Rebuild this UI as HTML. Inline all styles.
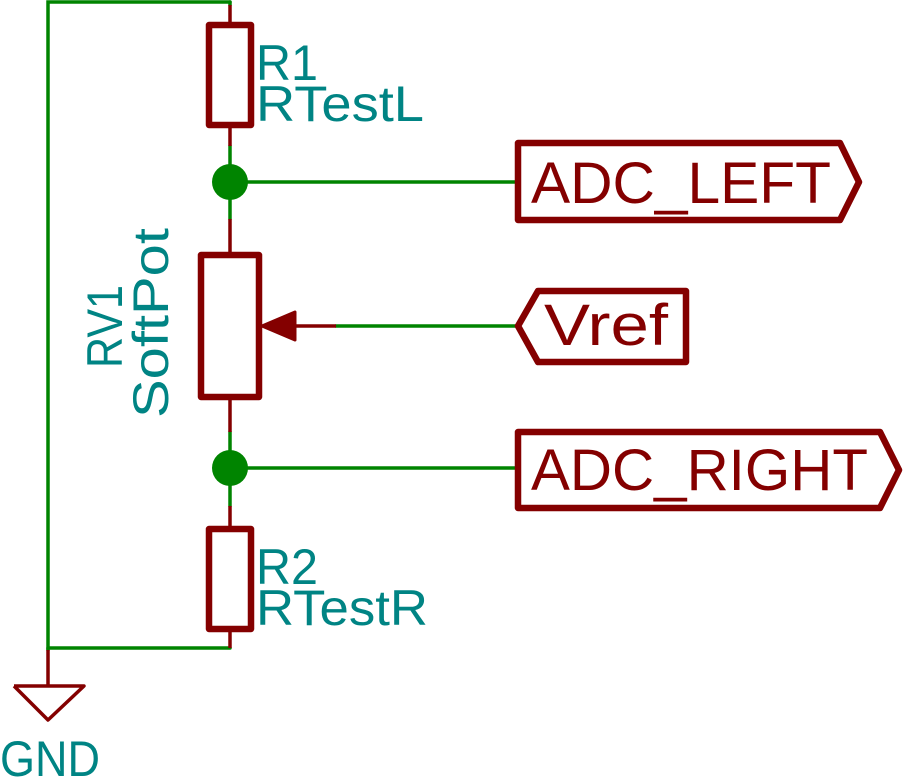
<!DOCTYPE html>
<html><head><style>html,body{margin:0;padding:0;background:#fff;}svg{display:block}</style></head>
<body>
<svg width="906" height="779" viewBox="0 0 906 779" xmlns="http://www.w3.org/2000/svg" font-family="Liberation Sans, DejaVu Sans, sans-serif">
<g stroke="#008400" stroke-width="3.5" fill="none" stroke-linecap="round">
<polyline points="230,2 48,2 48,648 230,648"/>
<line x1="230" y1="2" x2="230" y2="5"/>
<line x1="230" y1="146" x2="230" y2="219"/>
<line x1="230" y1="432" x2="230" y2="506"/>
<line x1="230" y1="182" x2="518" y2="182"/>
<line x1="336" y1="326" x2="518" y2="326"/>
<line x1="230" y1="468" x2="518" y2="468"/>
<line x1="48" y1="648" x2="48" y2="650"/>
</g>
<g fill="#008400"><circle cx="230" cy="182" r="18"/><circle cx="230" cy="468" r="18"/></g>
<g stroke="#840000" stroke-width="3.5" fill="none">
<line x1="230" y1="5" x2="230" y2="25"/><line x1="230" y1="125" x2="230" y2="146"/>
<line x1="230" y1="219" x2="230" y2="253"/><line x1="230" y1="398" x2="230" y2="432"/>
<line x1="230" y1="506" x2="230" y2="528"/><line x1="230" y1="628" x2="230" y2="648"/>
<line x1="296" y1="326" x2="336" y2="326"/>
<line x1="48" y1="650" x2="48" y2="686"/>
</g>
<g stroke="#840000" stroke-width="6.5" fill="none" stroke-linejoin="round">
<rect x="209" y="25" width="42" height="100"/>
<rect x="201" y="255" width="58" height="142"/>
<rect x="209" y="529" width="42" height="100"/>
<polygon points="518,143 840,143 859,182 840,220 518,220"/>
<polygon points="518,326 538,291 686,291 686,362 538,362"/>
<polygon points="518,432 880,432 899,470 880,508 518,508"/>
</g>
<polygon points="262,326 295,312 295,340" fill="#840000" stroke="#840000" stroke-width="3" stroke-linejoin="round"/>
<polyline points="14,686 84,686 48,720 14,686" fill="none" stroke="#840000" stroke-width="3.5" stroke-linejoin="round"/>
<g fill="#840000" font-size="58" lengthAdjust="spacingAndGlyphs">
<text x="531" y="203" textLength="300" lengthAdjust="spacingAndGlyphs">ADC_LEFT</text>
<text x="544" y="345" textLength="124" lengthAdjust="spacingAndGlyphs">Vref</text>
<text x="531" y="490" textLength="337" lengthAdjust="spacingAndGlyphs">ADC_RIGHT</text>
</g>
<g fill="#008484" font-size="50">
<text x="256" y="80" textLength="62" lengthAdjust="spacingAndGlyphs">R1</text>
<text x="256" y="121" textLength="168" lengthAdjust="spacingAndGlyphs">RTestL</text>
<text x="256" y="584" textLength="62" lengthAdjust="spacingAndGlyphs">R2</text>
<text x="256" y="625" textLength="172" lengthAdjust="spacingAndGlyphs">RTestR</text>
<text x="0" y="776" textLength="100" lengthAdjust="spacingAndGlyphs">GND</text>
<text transform="translate(122,368) rotate(-90)" textLength="83" lengthAdjust="spacingAndGlyphs">RV1</text>
<text transform="translate(168,418) rotate(-90)" textLength="190" lengthAdjust="spacingAndGlyphs">SoftPot</text>
</g>
</svg>
</body></html>
